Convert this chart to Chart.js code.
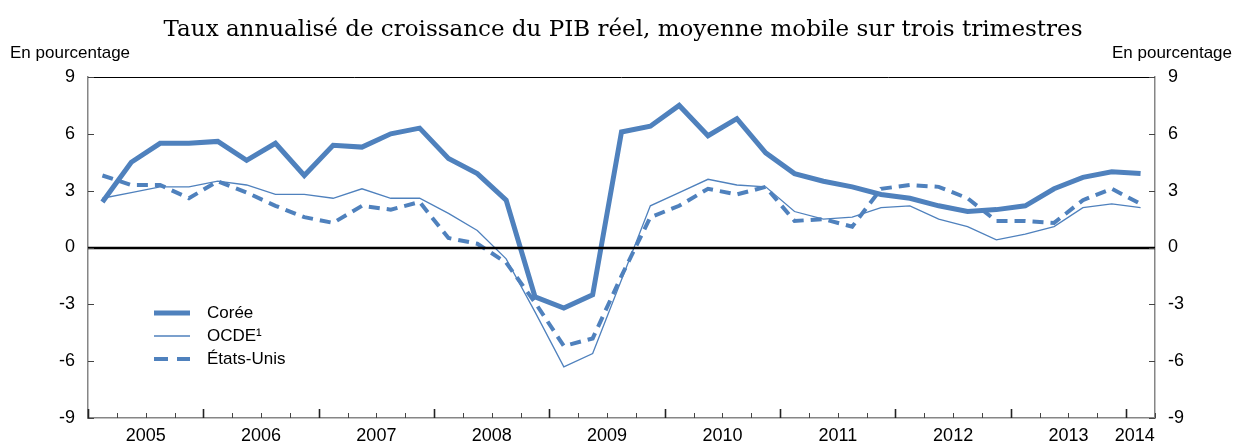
<!DOCTYPE html>
<html>
<head>
<meta charset="utf-8">
<script src="https://cdn.jsdelivr.net/npm/chart.js@4.4.1/dist/chart.umd.min.js"></script>
<style>
    html, body { margin: 0; padding: 0; background: #fff; }
</style>
</head>
<body>
<canvas id="canvas-1" width="1235" height="442"></canvas>
<script>
// years shown on the x axis, data is quarterly from 2005T1 to 2014T1
var years = ['2005', '2006', '2007', '2008', '2009', '2010', '2011', '2012', '2013', '2014'];
var yTicks = [-9, -6, -3, 0, 3, 6, 9];

var coree = [2.4, 4.5, 5.5, 5.5, 5.6, 4.6, 5.5, 3.8, 5.4, 5.3, 6.0, 6.3, 4.7, 3.9, 2.5, -2.6, -3.2, -2.5, 6.1,
    6.4, 7.5, 5.9, 6.8, 5.0, 3.9, 3.5, 3.2, 2.8, 2.6, 2.2, 1.9, 2.0, 2.2, 3.1, 3.7, 4.0, 3.9];
var ocde = [2.6, 2.9, 3.2, 3.2, 3.5, 3.3, 2.8, 2.8, 2.6, 3.1, 2.6, 2.6, 1.8, 0.9, -0.6, -3.4, -6.3, -5.6, -1.7,
    2.2, 2.9, 3.6, 3.3, 3.2, 1.9, 1.5, 1.6, 2.1, 2.2, 1.5, 1.1, 0.4, 0.7, 1.1, 2.1, 2.3, 2.1];
var etatsUnis = [3.8, 3.3, 3.3, 2.6, 3.5, 2.9, 2.2, 1.6, 1.3, 2.2, 2.0, 2.4, 0.5, 0.2, -0.8, -2.9, -5.2, -4.8, -1.5,
    1.6, 2.2, 3.1, 2.8, 3.2, 1.4, 1.5, 1.1, 3.1, 3.3, 3.2, 2.6, 1.4, 1.4, 1.3, 2.5, 3.1, 2.3];

var blue = '#4F81BD';
var axisGrey = '#868686';
var sans = '"Liberation Sans", Arial, sans-serif';
var nQuarters = coree.length;

function toPoints(arr) {
    // each quarter sits in the middle of its slot
    return arr.map(function (v, i) { return { x: i + 0.5, y: v }; });
}

// year label positions: middle of each year, the last (partial) year near its start
var yearPos = years.map(function (y, i) {
    return i < years.length - 1 ? i * 4 + 2 : i * 4 + 0.3;
});

var decor = {
    id: 'decor',
    afterDatasetsDraw: function (chart) {
        var ctx = chart.ctx, a = chart.chartArea, y = chart.scales.y;
        var y0 = Math.round(y.getPixelForValue(0));
        ctx.save();
        ctx.strokeStyle = '#000';
        ctx.lineWidth = 2.5;
        ctx.beginPath();
        ctx.moveTo(a.left, y0);
        ctx.lineTo(a.right, y0);
        ctx.stroke();
        ctx.restore();
    },
    afterDraw: function (chart) {
        var ctx = chart.ctx, a = chart.chartArea;
        var x = chart.scales.x, y = chart.scales.y;
        ctx.save();

        // top frame line
        ctx.strokeStyle = '#000';
        ctx.lineWidth = 1;
        ctx.beginPath();
        ctx.moveTo(a.left, a.top + 0.5);
        ctx.lineTo(a.right, a.top + 0.5);
        ctx.stroke();

        // quarter ticks pointing inward
        for (var q = 0; q <= nQuarters; q++) {
            var px = Math.round(x.getPixelForValue(q)) + 0.5;
            var major = q % 4 === 0;
            ctx.strokeStyle = major ? '#222' : '#444';
            ctx.lineWidth = major ? 1.6 : 1;
            ctx.beginPath();
            ctx.moveTo(px, a.bottom);
            ctx.lineTo(px, a.bottom - (major ? 9 : 5));
            ctx.stroke();
        }

        // value ticks on both sides, pointing inward
        ctx.strokeStyle = '#444';
        ctx.lineWidth = 1;
        yTicks.forEach(function (v) {
            var py = Math.round(y.getPixelForValue(v)) + 0.5;
            ctx.beginPath();
            ctx.moveTo(a.left, py);
            ctx.lineTo(a.left + 6, py);
            ctx.moveTo(a.right, py);
            ctx.lineTo(a.right - 6, py);
            ctx.stroke();
        });

        // texts above the plot
        ctx.fillStyle = '#000';
        ctx.textBaseline = 'alphabetic';
        ctx.font = '23px "DejaVu Serif", serif';
        ctx.textAlign = 'center';
        ctx.fillText('Taux annualisé de croissance du PIB réel, moyenne mobile sur trois trimestres', 623, 36);
        ctx.font = '17px ' + sans;
        ctx.textAlign = 'left';
        ctx.fillText('En pourcentage', 10, 58);
        ctx.textAlign = 'right';
        ctx.fillText('En pourcentage', 1232, 58);

        // legend inside the plot
        ctx.textAlign = 'left';
        ctx.textBaseline = 'middle';
        ctx.font = '17px ' + sans;
        chart.data.datasets.forEach(function (ds, i) {
            var ly = 313 + i * 23;
            ctx.strokeStyle = ds.borderColor;
            ctx.lineWidth = ds.borderWidth;
            ctx.setLineDash(ds.borderDash && ds.borderDash.length ? [14, 9] : []);
            ctx.beginPath();
            ctx.moveTo(154, ly);
            ctx.lineTo(190, ly);
            ctx.stroke();
            ctx.setLineDash([]);
            ctx.fillStyle = '#000';
            ctx.fillText(ds.label, 207, ly);
        });
        ctx.restore();
    }
};

var lineChart = new Chart(document.getElementById('canvas-1'), {
    type: 'line',
    data: {
        datasets: [{
            label: 'Corée',
            data: toPoints(coree),
            borderColor: blue,
            borderWidth: 5,
            pointRadius: 0,
            tension: 0
        }, {
            label: 'OCDE\u00B9',
            data: toPoints(ocde),
            borderColor: blue,
            borderWidth: 1.3,
            pointRadius: 0,
            tension: 0
        }, {
            label: 'États-Unis',
            data: toPoints(etatsUnis),
            borderColor: blue,
            borderWidth: 4,
            borderDash: [11, 7],
            pointRadius: 0,
            tension: 0
        }]
    },
    options: {
        responsive: false,
        animation: false,
        devicePixelRatio: 1,
        layout: { padding: { top: 77, bottom: 0, left: 0, right: 0 } },
        plugins: {
            legend: { display: false },
            title: { display: false },
            tooltip: { enabled: false }
        },
        scales: {
            x: {
                type: 'linear',
                min: 0,
                max: nQuarters,
                afterBuildTicks: function (scale) {
                    scale.ticks = yearPos.map(function (v) { return { value: v }; });
                },
                afterFit: function (scale) { scale.height = 24; },
                grid: { display: false, drawTicks: false },
                border: { display: true, color: axisGrey, width: 1.5 },
                ticks: {
                    autoSkip: false,
                    maxRotation: 0,
                    minRotation: 0,
                    padding: 7,
                    color: '#000',
                    font: { family: sans, size: 18 },
                    callback: function (value, index) { return years[index]; }
                }
            },
            y: {
                position: 'left',
                min: -9,
                max: 9,
                afterFit: function (scale) { scale.width = 88; },
                grid: { display: false, drawTicks: false },
                border: { display: true, color: axisGrey, width: 1.5 },
                ticks: { stepSize: 3, padding: 13, color: '#000', font: { family: sans, size: 18 } }
            },
            y2: {
                position: 'right',
                min: -9,
                max: 9,
                afterFit: function (scale) { scale.width = 80; },
                grid: { display: false, drawTicks: false },
                border: { display: true, color: axisGrey, width: 1.5 },
                ticks: { stepSize: 3, padding: 13, color: '#000', font: { family: sans, size: 18 } }
            }
        }
    },
    plugins: [decor]
});
</script>
</body>
</html>
